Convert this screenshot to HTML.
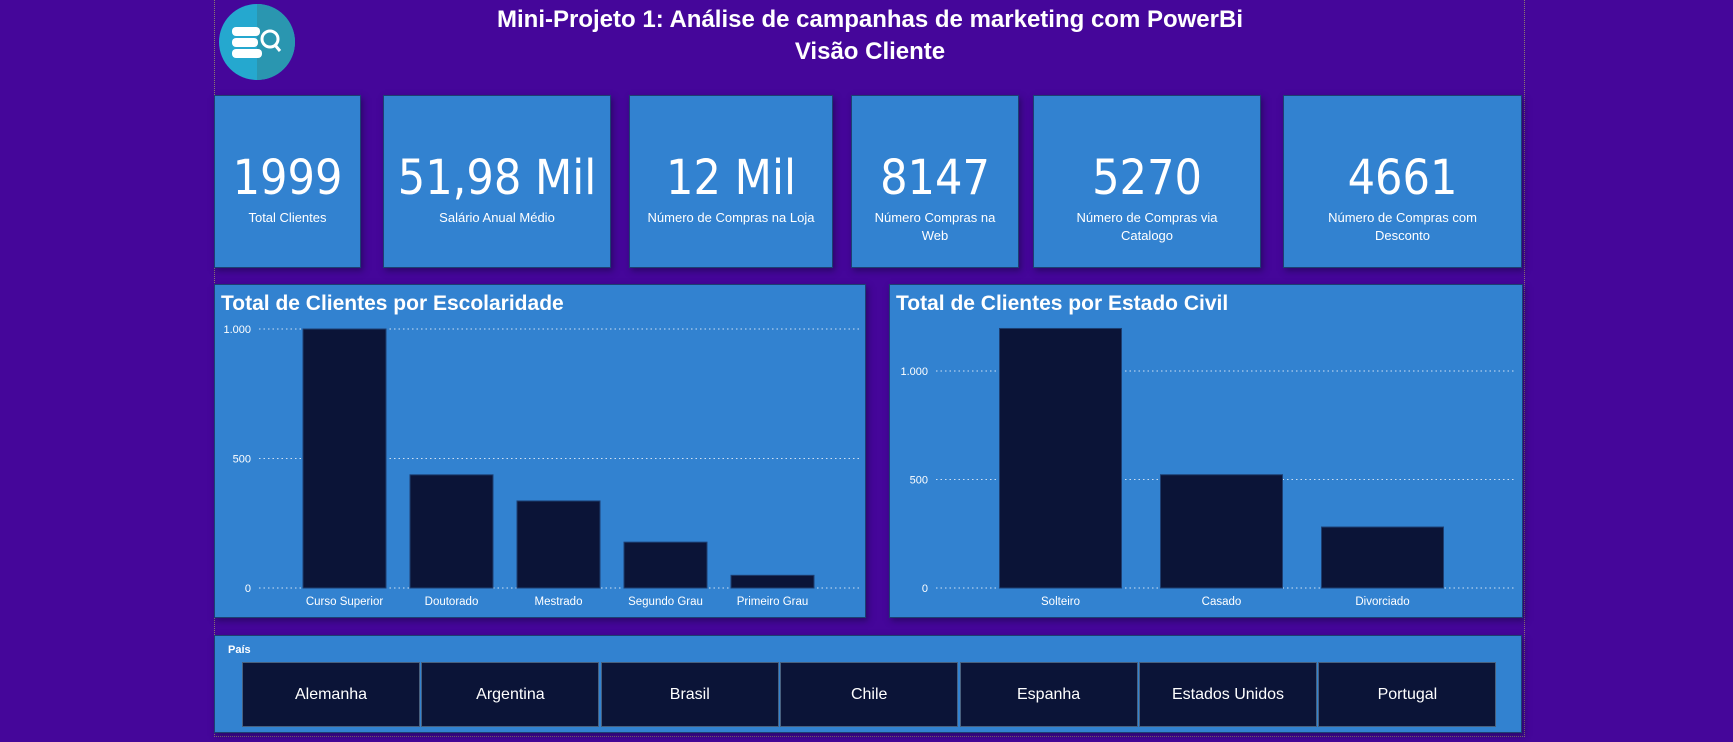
<!DOCTYPE html>
<html><head><meta charset="utf-8">
<style>
*{margin:0;padding:0;box-sizing:border-box}
body{width:1733px;height:742px;background:#45069a;font-family:"Liberation Sans",sans-serif;position:relative;overflow:hidden;color:#fff}
.abs{position:absolute}
.frame{left:214px;top:0;width:1311px;height:737px;border-left:1px dotted #8a7a70;border-right:1px dotted #8a7a70;border-bottom:1px dotted #8a7a70}
.card{background:#3282d0;box-shadow:2px 3px 6px rgba(25,10,70,.6);border:1px solid #1d3f72;text-align:center}
.num{position:absolute;left:0;right:0;top:54px;font-size:48px;line-height:56px;font-family:"DejaVu Sans Condensed","Liberation Sans Narrow","Liberation Sans",sans-serif}
.lbl{position:absolute;left:30px;right:30px;top:113px;font-size:13px;line-height:18px}
.title{left:300px;width:1140px;text-align:center;font-weight:bold;font-size:24px}
.btn{position:absolute;top:0;height:65px;background:#0b1437;border:1px solid #48607e;font-size:16px;text-align:center;line-height:63px}
</style></head><body>
<div class="abs frame"></div>
<svg class="abs" style="left:218px;top:3px" width="78" height="78">
<circle cx="39" cy="39" r="38" fill="#25a8cf"/><path d="M39 1 A38 38 0 0 1 39 77Z" fill="#2a96b0"/>
<rect x="14" y="24" width="28" height="9" rx="4" fill="#fff"/><rect x="14" y="35" width="26" height="9" rx="4" fill="#fff"/><rect x="14" y="46" width="30" height="9" rx="4" fill="#fff"/>
<circle cx="52" cy="36" r="8" fill="none" stroke="#fff" stroke-width="3"/><line x1="57" y1="42" x2="62" y2="48" stroke="#fff" stroke-width="3"/>
</svg>
<div class="abs title" style="top:6px">Mini-Projeto 1: Análise de campanhas de marketing com PowerBi</div>
<div class="abs title" style="top:38px">Visão Cliente</div>

<div class="abs card" style="left:214px;top:95px;width:147px;height:173px"><div class="num">1999</div><div class="lbl" style="left:5px;right:5px">Total Clientes</div></div>
<div class="abs card" style="left:383px;top:95px;width:228px;height:173px"><div class="num">51,98 Mil</div><div class="lbl">Salário Anual Médio</div></div>
<div class="abs card" style="left:629px;top:95px;width:204px;height:173px"><div class="num">12 Mil</div><div class="lbl" style="left:5px;right:5px">Número de Compras na Loja</div></div>
<div class="abs card" style="left:851px;top:95px;width:168px;height:173px"><div class="num">8147</div><div class="lbl" style="left:15px;right:15px">Número Compras na Web</div></div>
<div class="abs card" style="left:1033px;top:95px;width:228px;height:173px"><div class="num">5270</div><div class="lbl" style="left:35px;right:35px">Número de Compras via Catalogo</div></div>
<div class="abs card" style="left:1283px;top:95px;width:239px;height:173px"><div class="num">4661</div><div class="lbl" style="left:35px;right:35px">Número de Compras com Desconto</div></div>

<svg class="abs card" style="left:214px;top:284px;text-align:left" width="652" height="334" id="c1"></svg>
<svg class="abs card" style="left:889px;top:284px;text-align:left" width="634" height="334" id="c2"></svg>

<div class="abs card" style="left:214px;top:635px;width:1308px;height:98px;text-align:left">
<div class="abs" style="left:13px;top:8px;font-size:11px;font-weight:bold">País</div>
<div class="abs" style="left:27px;top:26px;width:1256px;height:65px" id="btns"></div>
</div>

<script>
const eduCats=["Curso Superior","Doutorado","Mestrado","Segundo Grau","Primeiro Grau"];
const eduVals=[1000,437,336,177,49];
const eduTicks=[0,500,1000];
const eduTickLabels=["0","500","1.000"];
const civCats=["Solteiro","Casado","Divorciado"];
const civVals=[1196,522,281];
const civTicks=[0,500,1000];
const civTickLabels=["0","500","1.000"];
const countries=["Alemanha","Argentina","Brasil","Chile","Espanha","Estados Unidos","Portugal"];
const NS="http://www.w3.org/2000/svg";
function mk(p,t,a){const e=document.createElementNS(NS,t);for(const k in a)e.setAttribute(k,a[k]);p.appendChild(e);return e;}
function chart(id,title,cats,vals,ticks,tl,o){
 const s=document.getElementById(id);
 const t=mk(s,'text',{x:6,y:25,'font-size':21,'font-weight':'bold',fill:'#fff'});t.textContent=title;
 
 
 const y=v=>o.y0-(v/o.max)*(o.y0-o.y1);
 ticks.forEach((v,i)=>{
  const l=mk(s,'line',{x1:o.gx0,x2:o.gx1,y1:y(v),y2:y(v),stroke:'#cfe0f3','stroke-dasharray':'1.5 3','stroke-width':1});
  
  
  const tx=mk(s,'text',{x:o.gx0-8,y:y(v)+4,'font-size':11,'text-anchor':'end',fill:'#fff'});tx.textContent=tl[i];
  
  
 });
 cats.forEach((c,i)=>{
  const cx=o.x0+o.slot*(i+0.5);
  const r=mk(s,'rect',{x:cx-o.bw/2,y:y(vals[i]),width:o.bw,height:o.y0-y(vals[i]),fill:'#0b1437',stroke:'#1d3f72'});
  
  
  const tx=mk(s,'text',{x:cx,y:o.y0+17,'font-size':11.5,'text-anchor':'middle',fill:'#fff'});tx.textContent=c;
  
  
 });
}
chart('c1','Total de Clientes por Escolaridade',eduCats,eduVals,eduTicks,eduTickLabels,{y0:303,y1:44,max:1000,gx0:44,gx1:645,x0:76,slot:107,bw:83});
chart('c2','Total de Clientes por Estado Civil',civCats,civVals,civTicks,civTickLabels,{y0:303,y1:86,max:1000,gx0:46,gx1:626,x0:90,slot:161,bw:122});
const b=document.getElementById('btns');
countries.forEach((c,i)=>{
 const d=document.createElement('div');d.className='btn';d.style.left=(i*179.4)+'px';d.style.width='178px';d.textContent=c;
 
 
 b.appendChild(d);
});
</script>
</body></html>
